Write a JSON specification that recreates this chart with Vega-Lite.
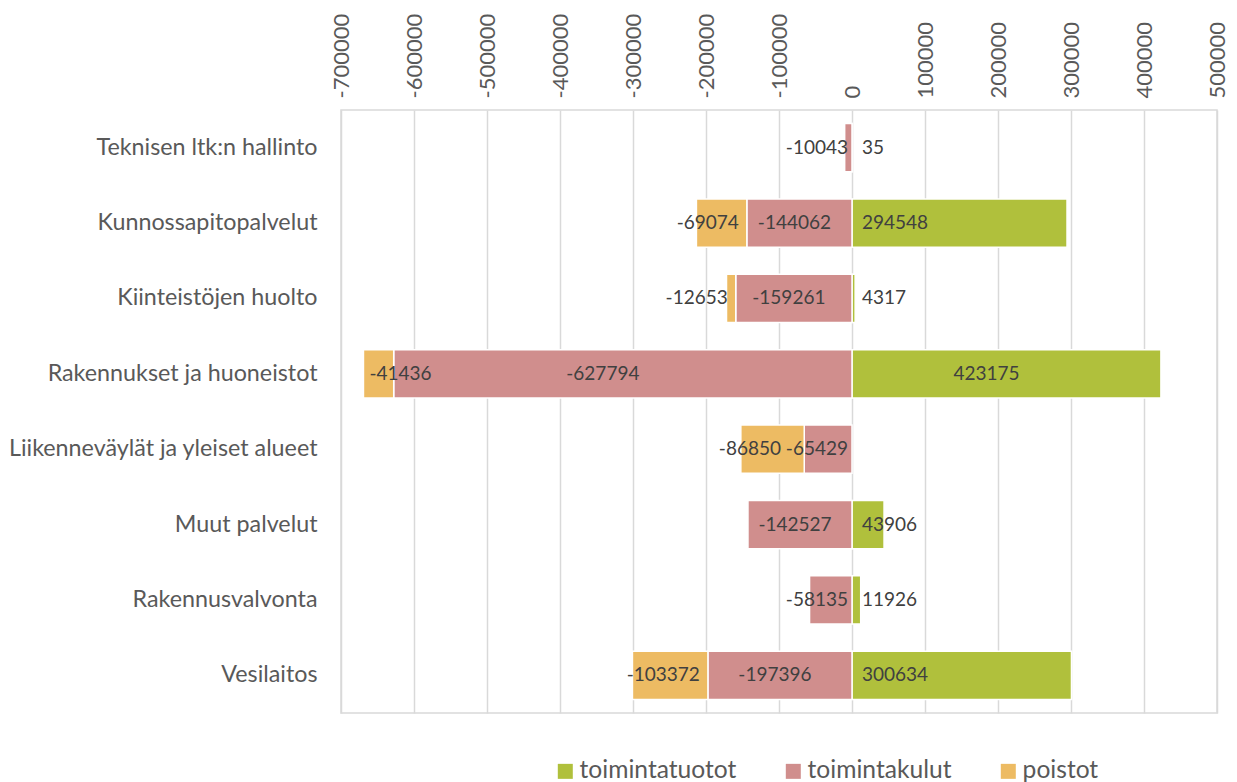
{
  "$schema": "https://vega.github.io/schema/vega-lite/v6.json",
  "width": 876,
  "height": 603,
  "autosize": {"type": "none"},
  "padding": {"left": 341, "top": 110, "right": 20, "bottom": 69},
  "background": "#ffffff",
  "config": {
    "font": "Lato",
    "view": {"stroke": "#d9d9d9", "strokeWidth": 1.5},
    "axis": {"labelFont": "Lato", "labelColor": "#595959"}
  },
  "data": {
    "values": [
      {"category": "Teknisen ltk:n hallinto", "series": "toimintatuotot", "ord": 0, "value": 35},
      {"category": "Teknisen ltk:n hallinto", "series": "toimintakulut", "ord": 1, "value": -10043},
      {"category": "Kunnossapitopalvelut", "series": "toimintatuotot", "ord": 0, "value": 294548},
      {"category": "Kunnossapitopalvelut", "series": "toimintakulut", "ord": 1, "value": -144062},
      {"category": "Kunnossapitopalvelut", "series": "poistot", "ord": 2, "value": -69074},
      {"category": "Kiinteistöjen huolto", "series": "toimintatuotot", "ord": 0, "value": 4317},
      {"category": "Kiinteistöjen huolto", "series": "toimintakulut", "ord": 1, "value": -159261},
      {"category": "Kiinteistöjen huolto", "series": "poistot", "ord": 2, "value": -12653},
      {"category": "Rakennukset ja huoneistot", "series": "toimintatuotot", "ord": 0, "value": 423175},
      {"category": "Rakennukset ja huoneistot", "series": "toimintakulut", "ord": 1, "value": -627794},
      {"category": "Rakennukset ja huoneistot", "series": "poistot", "ord": 2, "value": -41436},
      {"category": "Liikenneväylät ja yleiset alueet", "series": "toimintakulut", "ord": 1, "value": -65429},
      {"category": "Liikenneväylät ja yleiset alueet", "series": "poistot", "ord": 2, "value": -86850},
      {"category": "Muut palvelut", "series": "toimintatuotot", "ord": 0, "value": 43906},
      {"category": "Muut palvelut", "series": "toimintakulut", "ord": 1, "value": -142527},
      {"category": "Rakennusvalvonta", "series": "toimintatuotot", "ord": 0, "value": 11926},
      {"category": "Rakennusvalvonta", "series": "toimintakulut", "ord": 1, "value": -58135},
      {"category": "Vesilaitos", "series": "toimintatuotot", "ord": 0, "value": 300634},
      {"category": "Vesilaitos", "series": "toimintakulut", "ord": 1, "value": -197396},
      {"category": "Vesilaitos", "series": "poistot", "ord": 2, "value": -103372}
    ]
  },
  "encoding": {
    "y": {
      "field": "category",
      "type": "nominal",
      "sort": ["Teknisen ltk:n hallinto", "Kunnossapitopalvelut", "Kiinteistöjen huolto", "Rakennukset ja huoneistot", "Liikenneväylät ja yleiset alueet", "Muut palvelut", "Rakennusvalvonta", "Vesilaitos"],
      "scale": {"paddingInner": 0.36, "paddingOuter": 0.18},
      "axis": {"title": null, "ticks": false, "domain": false, "labelFontSize": 23.3, "labelPadding": 24, "labelColor": "#595959", "labelLimit": 400}
    }
  },
  "layer": [
    {
      "mark": {"type": "bar", "stroke": "#ffffff", "strokeWidth": 1.5},
      "encoding": {
        "x": {
          "field": "value",
          "type": "quantitative",
          "stack": "zero",
          "scale": {"domain": [-700000, 500000], "nice": false, "zero": false},
          "axis": {
            "orient": "top",
            "title": null,
            "values": [-700000, -600000, -500000, -400000, -300000, -200000, -100000, 0, 100000, 200000, 300000, 400000, 500000],
            "labelExpr": "'' + datum.value",
            "labelAngle": -90,
            "labelAlign": "left",
            "labelBaseline": "middle",
            "labelFontSize": 22,
            "labelPadding": 12,
            "labelColor": "#595959",
            "ticks": false,
            "domain": false,
            "grid": true,
            "gridColor": "#d9d9d9",
            "gridWidth": 1.5
          }
        },
        "color": {
          "field": "series",
          "type": "nominal",
          "scale": {"domain": ["toimintatuotot", "toimintakulut", "poistot"], "range": ["#b0c03c", "#d08e8d", "#edbb63"]},
          "legend": {
            "title": null,
            "orient": "none",
            "direction": "horizontal",
            "legendX": 212,
            "legendY": 649,
            "symbolType": "square",
            "symbolSize": 225,
            "symbolStrokeWidth": 0,
            "labelFontSize": 24.6,
            "labelColor": "#595959",
            "labelFont": "Lato",
            "columnPadding": 44,
            "labelOffset": 2,
            "padding": 0
          }
        },
        "order": {"field": "ord", "type": "quantitative"}
      }
    },
    {
      "transform": [
        {"stack": "value", "groupby": ["category"], "sort": [{"field": "ord", "order": "ascending"}], "as": ["s0", "s1"]},
        {"fold": ["s0", "s1"], "as": ["edge", "pos"]},
        {"aggregate": [{"op": "mean", "field": "pos", "as": "mid"}, {"op": "min", "field": "pos", "as": "far"}, {"op": "max", "field": "pos", "as": "near"}], "groupby": ["category", "series", "value", "ord"]}
      ],
      "layer": [
        {
          "transform": [{"filter": "abs(datum.value) > 400000"}],
          "mark": {"type": "text", "fontSize": 19, "color": "#404040", "align": "center", "baseline": "middle", "dx": -20, "font": "Lato"},
          "encoding": {
            "x": {"field": "mid", "type": "quantitative"},
            "text": {"field": "value", "type": "nominal"}
          }
        },
        {
          "transform": [{"filter": "datum.series == 'toimintatuotot' && datum.value <= 400000"}],
          "mark": {"type": "text", "fontSize": 19, "color": "#404040", "align": "left", "baseline": "middle", "dx": 10, "font": "Lato"},
          "encoding": {
            "x": {"datum": 0, "type": "quantitative"},
            "text": {"field": "value", "type": "nominal"}
          }
        },
        {
          "transform": [{"filter": "datum.series == 'toimintakulut' && abs(datum.value) <= 400000 && abs(datum.value) >= 100000"}],
          "mark": {"type": "text", "fontSize": 19, "color": "#404040", "align": "center", "baseline": "middle", "dx": -5, "font": "Lato"},
          "encoding": {
            "x": {"field": "mid", "type": "quantitative"},
            "text": {"field": "value", "type": "nominal"}
          }
        },
        {
          "transform": [{"filter": "datum.series == 'toimintakulut' && abs(datum.value) < 100000"}],
          "mark": {"type": "text", "fontSize": 19, "color": "#404040", "align": "right", "baseline": "middle", "dx": -4, "font": "Lato"},
          "encoding": {
            "x": {"datum": 0, "type": "quantitative"},
            "text": {"field": "value", "type": "nominal"}
          }
        },
        {
          "transform": [{"filter": "datum.series == 'poistot' && datum.near <= -100000 && datum.near > -400000"}],
          "mark": {"type": "text", "fontSize": 19, "color": "#404040", "align": "right", "baseline": "middle", "dx": -8, "font": "Lato"},
          "encoding": {
            "x": {"field": "near", "type": "quantitative"},
            "text": {"field": "value", "type": "nominal"}
          }
        },
        {
          "transform": [{"filter": "datum.series == 'poistot' && datum.near > -100000"}],
          "mark": {"type": "text", "fontSize": 19, "color": "#404040", "align": "left", "baseline": "middle", "dx": -22, "font": "Lato"},
          "encoding": {
            "x": {"field": "far", "type": "quantitative"},
            "text": {"field": "value", "type": "nominal"}
          }
        },
        {
          "transform": [{"filter": "datum.series == 'poistot' && datum.near <= -400000"}],
          "mark": {"type": "text", "fontSize": 19, "color": "#404040", "align": "left", "baseline": "middle", "dx": 6, "font": "Lato"},
          "encoding": {
            "x": {"field": "far", "type": "quantitative"},
            "text": {"field": "value", "type": "nominal"}
          }
        }
      ]
    }
  ]
}
